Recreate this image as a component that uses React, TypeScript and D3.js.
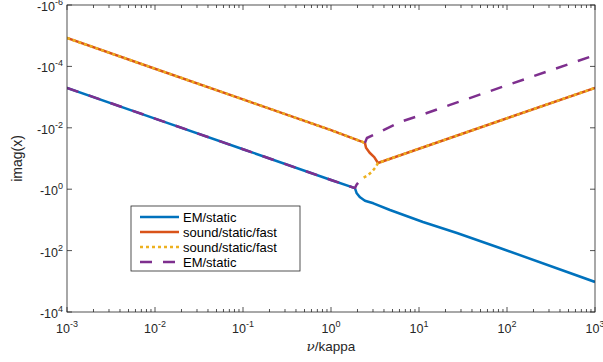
import { useEffect, useRef } from "react"
import * as d3 from "d3"

// nu/kappa values and |imag(x)| for each curve (NaN = break in the line)
const nuBlue = [0.001, 0.01, 0.1, 1, 1.87, 1.96, 2.14, 2.43, 3.03, 4.68, 11.1, 27, 83, 1000]
const imBlue = [5e-4, 5e-3, 0.05, 0.5, 0.92, 1.36, 1.84, 2.37, 2.88, 4.77, 11.7, 26.8, 82, 1050]

const nuOrange = [0.001, 0.01, 0.1, 1, 2.43, 2.5, 2.75, 3.1, 3.42, 10, 100, 1000]
const imOrange = [1.19e-5, 1.19e-4, 1.19e-3, 0.0119, 0.031, 0.045, 0.065, 0.09, 0.14, 0.048, 4.9e-3, 5e-4]

const nuYellow = [0.001, 0.01, 0.1, 1, 2.43, NaN, 2.35, 2.6, 2.9, 3.2, 3.42, 10, 100, 1000]
const imYellow = [1.19e-5, 1.19e-4, 1.19e-3, 0.0119, 0.031, NaN, 0.42, 0.36, 0.275, 0.196, 0.14, 0.048, 4.9e-3, 5e-4]

const nuPurple = [0.001, 0.01, 0.1, 1, 1.87, 1.95, 2.1, 2.3, NaN, 2.43, 2.56, 3.6, 6.08, 12.3, 22.5, 100, 1000]
const imPurple = [5e-4, 5e-3, 0.05, 0.5, 0.92, 0.72, 0.55, 0.43, NaN, 0.031, 0.0215, 0.0137, 0.0065, 0.0033, 0.0018, 4.1e-4, 4.3e-5]

const xTickExps = [-3, -2, -1, 0, 1, 2, 3]
const yTickExps = [-6, -4, -2, 0, 2, 4]
const legendLabels = ["EM/static", "sound/static/fast", "sound/static/fast", "EM/static"]

const FONT = "'Liberation Sans', Arial, Helvetica, sans-serif"
const AXIS = "#262626"

export default function App() {
  const svgRef = useRef<SVGSVGElement>(null)

  useEffect(() => {
    const svg = d3.select(svgRef.current)
    svg.selectAll("*").remove()

    const left = 67, right = 595, top = 5, bottom = 312
    const x = d3.scaleLog().domain([1e-3, 1e3]).range([left, right])
    const y = d3.scaleLog().domain([1e-6, 1e4]).range([top, bottom])

    svg.append("defs").append("clipPath").attr("id", "plotClip")
      .append("rect").attr("x", left).attr("y", top)
      .attr("width", right - left).attr("height", bottom - top)

    // Series
    const series = [
      { nu: nuBlue, im: imBlue, color: "#0072BD", dash: null },
      { nu: nuOrange, im: imOrange, color: "#D95319", dash: null },
      { nu: nuYellow, im: imYellow, color: "#EDB120", dash: "3,3" },
      { nu: nuPurple, im: imPurple, color: "#7E2F8E", dash: "12,11" },
    ]

    const line = d3.line<[number, number]>()
      .defined(d => !isNaN(d[0]))
      .x(d => x(d[0]))
      .y(d => y(d[1]))

    const plot = svg.append("g").attr("clip-path", "url(#plotClip)")
    series.forEach(s => {
      const pts = s.nu.map((n, i) => [n, s.im[i]] as [number, number])
      plot.append("path")
        .attr("d", line(pts))
        .attr("fill", "none")
        .attr("stroke", s.color)
        .attr("stroke-width", 2.5)
        .attr("stroke-dasharray", s.dash)
        .attr("stroke-linejoin", "round")
    })

    // Box
    svg.append("rect")
      .attr("x", left).attr("y", top)
      .attr("width", right - left).attr("height", bottom - top)
      .attr("fill", "none").attr("stroke", AXIS).attr("stroke-width", 0.8)

    const ticks = svg.append("g").attr("stroke", AXIS).attr("stroke-width", 0.8)

    // X ticks (major + minor, top and bottom, inward)
    xTickExps.forEach((e, i) => {
      const v = Math.pow(10, e)
      const px = x(v)
      ticks.append("line").attr("x1", px).attr("x2", px).attr("y1", bottom).attr("y2", bottom - 5)
      ticks.append("line").attr("x1", px).attr("x2", px).attr("y1", top).attr("y2", top + 5)
      if (i < xTickExps.length - 1) {
        d3.range(2, 10).forEach(k => {
          const mx = x(k * v)
          ticks.append("line").attr("x1", mx).attr("x2", mx).attr("y1", bottom).attr("y2", bottom - 3)
          ticks.append("line").attr("x1", mx).attr("x2", mx).attr("y1", top).attr("y2", top + 3)
        })
      }
      const t = svg.append("text")
        .attr("x", px).attr("y", 333)
        .attr("text-anchor", "middle")
        .attr("font-family", FONT).attr("font-size", 12.5).attr("fill", AXIS)
      t.append("tspan").text("10")
      t.append("tspan").attr("dy", -6).attr("font-size", 9).text(String(e))
    })

    // Y ticks (left and right, inward)
    yTickExps.forEach(e => {
      const py = y(Math.pow(10, e))
      ticks.append("line").attr("x1", left).attr("x2", left + 5).attr("y1", py).attr("y2", py)
      ticks.append("line").attr("x1", right).attr("x2", right - 5).attr("y1", py).attr("y2", py)
      const t = svg.append("text")
        .attr("x", 63).attr("y", py + 6)
        .attr("text-anchor", "end")
        .attr("font-family", FONT).attr("font-size", 12.5).attr("fill", AXIS)
      t.append("tspan").text("-10")
      t.append("tspan").attr("dy", -6).attr("font-size", 9).text(String(e))
    })

    // Axis labels
    svg.append("text")
      .attr("x", (left + right) / 2).attr("y", 351)
      .attr("text-anchor", "middle")
      .attr("font-family", FONT).attr("font-size", 13.5).attr("fill", AXIS)
      .html("<tspan font-family=\"'DejaVu Serif', serif\" font-style=\"italic\">\u03BD</tspan>/kappa")

    svg.append("text")
      .attr("transform", `translate(22,${(top + bottom) / 2}) rotate(-90)`)
      .attr("text-anchor", "middle")
      .attr("font-family", FONT).attr("font-size", 14).attr("fill", AXIS)
      .text("imag(x)")

    // Legend
    const lg = svg.append("g")
    lg.append("rect")
      .attr("x", 131).attr("y", 206).attr("width", 169).attr("height", 65)
      .attr("fill", "white").attr("stroke", AXIS).attr("stroke-width", 0.8)
    series.forEach((s, i) => {
      const ly = 217 + i * 15
      lg.append("line")
        .attr("x1", 140).attr("x2", 179).attr("y1", ly).attr("y2", ly)
        .attr("stroke", s.color).attr("stroke-width", 2.5)
        .attr("stroke-dasharray", s.dash)
      lg.append("text")
        .attr("x", 183).attr("y", ly + 4.5)
        .attr("font-family", FONT).attr("font-size", 13).attr("fill", "#000")
        .text(legendLabels[i])
    })
  }, [])

  return (
    <svg
      ref={svgRef}
      width={603}
      height={362}
      style={{ position: "absolute", left: 0, top: 0, background: "white" }}
    />
  )
}
